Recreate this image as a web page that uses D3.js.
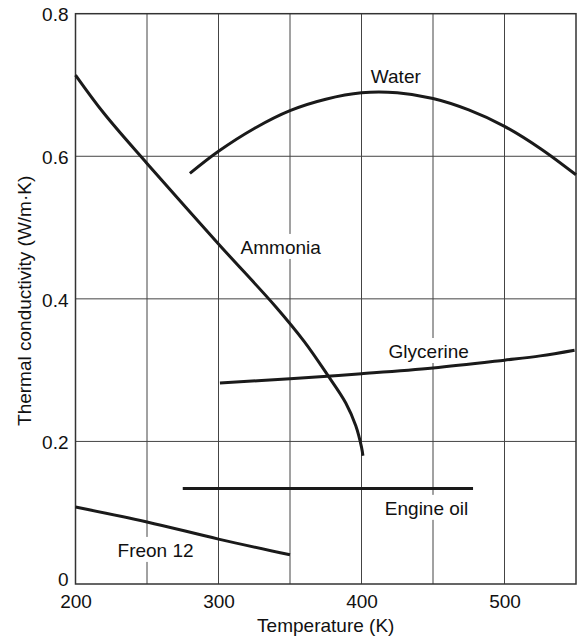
<!DOCTYPE html>
<html>
<head>
<meta charset="utf-8">
<script src="https://cdn.jsdelivr.net/npm/d3@7"></script>
<style>
  html, body { margin: 0; padding: 0; background: #fff; }
  svg { display: block; }
  text { font-family: "Liberation Sans", Arial, Helvetica, sans-serif; fill: #111; }
</style>
</head>
<body>
<svg id="chart" width="577" height="640"></svg>
<script>
// Thermal conductivity of saturated liquids vs temperature
const xTicks = [200, 300, 400, 500];
const yTicks = [0, 0.2, 0.4, 0.6, 0.8];
const xGrid = [250, 300, 350, 400, 450, 500];
const yGrid = [0.2, 0.4, 0.6];

const waterT = [280, 300, 325, 350, 375, 400, 425, 450, 475, 500, 525, 550];
const waterK = [0.576, 0.607, 0.639, 0.664, 0.680, 0.689, 0.689, 0.681, 0.665, 0.642, 0.611, 0.574];

const ammoniaT = [200, 220, 250, 300, 340, 360, 376, 389, 396, 400, 401];
const ammoniaK = [0.714, 0.660, 0.590, 0.477, 0.389, 0.340, 0.294, 0.254, 0.222, 0.192, 0.180];

const glycerineT = [301, 350, 400, 450, 500, 525, 549];
const glycerineK = [0.282, 0.288, 0.295, 0.303, 0.314, 0.320, 0.328];

const engineOilT = [275, 478];
const engineOilK = [0.134, 0.134];

const freonT = [200, 250, 300, 350];
const freonK = [0.108, 0.087, 0.063, 0.041];

const seriesNames = ["Water", "Ammonia", "Glycerine", "Engine oil", "Freon 12"];
// label anchor points in data units (centre x, baseline y)
const labelT = [424, 343.5, 447, 445.5, 256];
const labelK = [0.703, 0.463, 0.317, 0.097, 0.038];

const svg = d3.select("#chart");
const x = d3.scaleLinear().domain([200, 550]).range([75.5, 576]);
const y = d3.scaleLinear().domain([0, 0.8]).range([584, 13.7]);

const gridG = svg.append("g");
const frameG = svg.append("g");
const bgG = svg.append("g");
const curveG = svg.append("g");
const labelG = svg.append("g");
const axisG = svg.append("g");

// grid
gridG.append("g").selectAll("line").data(xGrid).join("line")
  .attr("x1", d => x(d)).attr("x2", d => x(d))
  .attr("y1", y(0)).attr("y2", y(0.8))
  .attr("stroke", "#444").attr("stroke-width", 1);
gridG.append("g").selectAll("line").data(yGrid).join("line")
  .attr("x1", x(200)).attr("x2", x(550))
  .attr("y1", d => y(d)).attr("y2", d => y(d))
  .attr("stroke", "#444").attr("stroke-width", 1);

// frame
frameG.append("rect")
  .attr("x", x(200)).attr("y", y(0.8))
  .attr("width", x(550) - x(200)).attr("height", y(0) - y(0.8))
  .attr("fill", "none").attr("stroke", "#333").attr("stroke-width", 1.5);

// axes (labels only)
const fs = 19;
const xAxis = axisG.append("g").attr("transform", `translate(0,${y(0)})`)
  .call(d3.axisBottom(x).tickValues(xTicks).tickSize(0).tickPadding(11).tickFormat(d3.format("d")));
xAxis.select(".domain").remove();
xAxis.selectAll("text").attr("font-size", fs).attr("font-family", null).attr("fill", "#111");

const yAxis = axisG.append("g").attr("transform", `translate(${x(200)},0)`)
  .call(d3.axisLeft(y).tickValues(yTicks).tickSize(0).tickPadding(7).tickFormat(d => d === 0 ? "0" : d3.format(".1f")(d)));
yAxis.select(".domain").remove();
yAxis.selectAll("text").attr("font-size", fs).attr("font-family", null).attr("fill", "#111")
  .attr("dy", d => d === 0 ? "0.1em" : "0.38em");

axisG.append("text")
  .attr("x", (x(200) + x(550)) / 2).attr("y", 632)
  .attr("text-anchor", "middle").attr("font-size", fs)
  .text("Temperature (K)");
axisG.append("text")
  .attr("transform", `translate(31,${(y(0) + y(0.8)) / 2 + 2}) rotate(-90)`)
  .attr("text-anchor", "middle").attr("font-size", fs)
  .text("Thermal conductivity (W/m\u00B7K)");

// series names, with white boxes that break the grid behind them
seriesNames.forEach((name, i) => {
  const t = labelG.append("text")
    .attr("x", x(labelT[i])).attr("y", y(labelK[i]))
    .attr("text-anchor", "middle").attr("font-size", fs)
    .text(name);
  const b = t.node().getBBox();
  bgG.append("rect")
    .attr("x", b.x - 4).attr("y", b.y - 3)
    .attr("width", b.width + 8).attr("height", b.height + 4)
    .attr("fill", "#fff");
});

// curves
const line = d3.line().x(d => x(d[0])).y(d => y(d[1])).curve(d3.curveCatmullRom.alpha(0.5));
const series = [
  [waterT, waterK], [ammoniaT, ammoniaK], [glycerineT, glycerineK],
  [engineOilT, engineOilK], [freonT, freonK]
];
series.forEach(([T, K]) => {
  curveG.append("path")
    .attr("d", line(T.map((t, i) => [t, K[i]])))
    .attr("fill", "none").attr("stroke", "#1a1a1a").attr("stroke-width", 3);
});
</script>
</body>
</html>
